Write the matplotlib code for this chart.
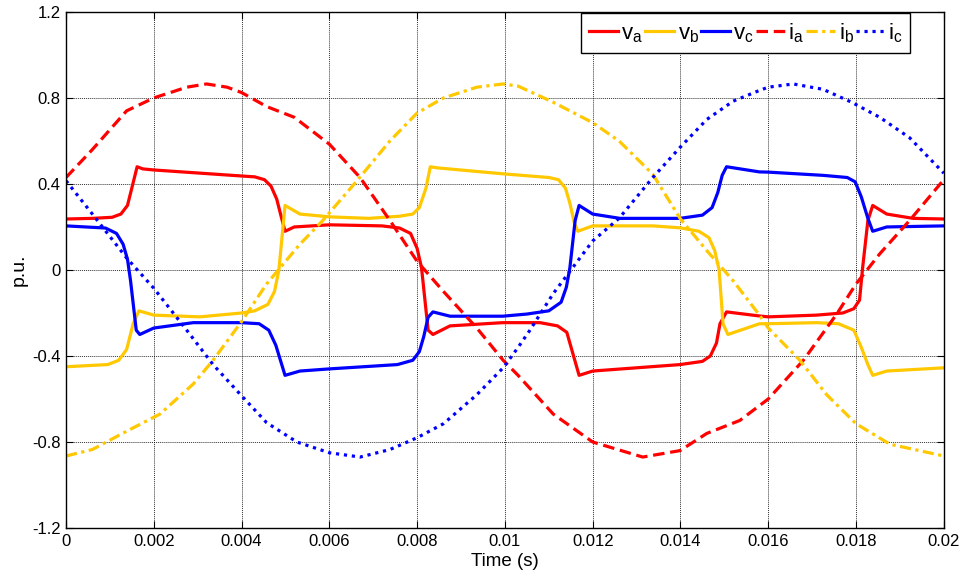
import numpy as np
import matplotlib
matplotlib.use("Agg")
import matplotlib.pyplot as plt
from matplotlib.ticker import FuncFormatter

plt.rcParams['font.family'] = ['Liberation Sans', 'DejaVu Sans']
plt.rcParams['mathtext.fontset'] = 'custom'
plt.rcParams['mathtext.rm'] = 'Liberation Sans'
plt.rcParams['mathtext.it'] = 'Liberation Sans'
plt.rcParams['axes.unicode_minus'] = False

# phase voltages (p.u.)
t_va = [0, 0.0006, 0.00105, 0.00125, 0.0014, 0.00162, 0.00175, 0.002, 0.004, 0.0043,
        0.00452, 0.00467, 0.0048, 0.0049, 0.00499, 0.0052, 0.006, 0.0072, 0.0076, 0.00785,
        0.008, 0.0081, 0.00825, 0.00836, 0.00875, 0.00995, 0.0108, 0.0112, 0.01141, 0.01155,
        0.01169, 0.0120, 0.01399, 0.0145, 0.01468, 0.01482, 0.0149, 0.01505, 0.0158, 0.016,
        0.0171, 0.0177, 0.01795, 0.01808, 0.01815, 0.01827, 0.01838, 0.0187, 0.0193, 0.02]
va = [0.237, 0.24, 0.245, 0.26, 0.30, 0.48, 0.47, 0.465, 0.437, 0.433,
      0.42, 0.39, 0.33, 0.25, 0.18, 0.20, 0.21, 0.205, 0.195, 0.17,
      0.10, 0.01, -0.28, -0.30, -0.26, -0.245, -0.245, -0.26, -0.29, -0.39,
      -0.49, -0.47, -0.44, -0.425, -0.40, -0.34, -0.25, -0.195, -0.214, -0.218,
      -0.21, -0.20, -0.18, -0.14, 0.01, 0.23, 0.30, 0.26, 0.24, 0.237]

t_vb = [0, 0.00095, 0.0012, 0.00138, 0.00153, 0.00166, 0.002, 0.00305, 0.004, 0.0043,
        0.0046, 0.00475, 0.00485, 0.00499, 0.00533, 0.006, 0.0069, 0.0076, 0.0079, 0.00805,
        0.0082, 0.0083, 0.00845, 0.00996, 0.0110, 0.01122, 0.01138, 0.01148, 0.01158, 0.01166,
        0.012, 0.01337, 0.01399, 0.01442, 0.01465, 0.01478, 0.01488, 0.01497, 0.01508, 0.0158,
        0.016, 0.0171, 0.0176, 0.01795, 0.01812, 0.01827, 0.01838, 0.0187, 0.02]
vb = [-0.45, -0.44, -0.42, -0.37, -0.25, -0.19, -0.21, -0.218, -0.20, -0.19,
      -0.16, -0.10, 0.0, 0.30, 0.26, 0.247, 0.24, 0.25, 0.26, 0.29,
      0.38, 0.48, 0.475, 0.447, 0.43, 0.42, 0.38, 0.31, 0.22, 0.18,
      0.205, 0.205, 0.196, 0.18, 0.15, 0.09, 0.0, -0.25, -0.30, -0.25,
      -0.25, -0.245, -0.25, -0.28, -0.36, -0.44, -0.49, -0.47, -0.455]

t_vc = [0, 0.0009, 0.00115, 0.0013, 0.0014, 0.00147, 0.0016, 0.00168, 0.002, 0.0029,
        0.004, 0.0044, 0.00462, 0.00478, 0.0049, 0.00499, 0.00533, 0.006, 0.00755, 0.0079,
        0.00805, 0.00815, 0.00825, 0.00836, 0.00875, 0.00995, 0.0105, 0.0110, 0.01128, 0.0114,
        0.01148, 0.0116, 0.01169, 0.012, 0.01262, 0.01399, 0.0145, 0.01472, 0.01485, 0.01495,
        0.01505, 0.0158, 0.016, 0.01725, 0.0178, 0.01798, 0.01812, 0.01827, 0.01838, 0.0187,
        0.02]
vc = [0.205, 0.195, 0.17, 0.12, 0.05, -0.05, -0.28, -0.30, -0.27, -0.245,
      -0.245, -0.25, -0.28, -0.35, -0.43, -0.49, -0.47, -0.46, -0.44, -0.42,
      -0.38, -0.31, -0.22, -0.195, -0.215, -0.215, -0.205, -0.19, -0.15, -0.08,
      0.01, 0.23, 0.30, 0.26, 0.24, 0.24, 0.255, 0.29, 0.36, 0.44,
      0.48, 0.456, 0.455, 0.44, 0.43, 0.41, 0.34, 0.24, 0.18, 0.20,
      0.205]

# phase currents (p.u.)
t_ia = [0, 0.0006, 0.00138, 0.002, 0.00275, 0.0032, 0.00367, 0.004, 0.00457, 0.0052,
        0.006, 0.0067, 0.00738, 0.008, 0.0086, 0.00936, 0.00996, 0.0103, 0.0111, 0.012,
        0.01314, 0.01399, 0.0146, 0.01535, 0.016, 0.0168, 0.01756, 0.018, 0.01854, 0.01922,
        0.02]
ia = [0.43, 0.56, 0.74, 0.80, 0.85, 0.865, 0.85, 0.825, 0.76, 0.71,
      0.585, 0.43, 0.23, 0.04, -0.10, -0.27, -0.42, -0.49, -0.67, -0.80,
      -0.87, -0.84, -0.76, -0.70, -0.60, -0.42, -0.205, -0.065, 0.075, 0.23,
      0.42]

t_ib = [0, 0.0006, 0.00138, 0.00214, 0.0029, 0.00335, 0.004, 0.00457, 0.00533, 0.00585,
        0.00663, 0.00738, 0.008, 0.0086, 0.00936, 0.00996, 0.0103, 0.0111, 0.012, 0.0126,
        0.01337, 0.01399, 0.0146, 0.0152, 0.0158, 0.016, 0.01672, 0.01733, 0.018, 0.01877,
        0.02]
ib = [-0.865, -0.835, -0.75, -0.67, -0.53, -0.42, -0.24, -0.065, 0.12, 0.23,
      0.415, 0.60, 0.73, 0.80, 0.85, 0.865, 0.855, 0.78, 0.685, 0.60,
      0.445, 0.24, 0.09, -0.05, -0.21, -0.27, -0.42, -0.58, -0.715, -0.81,
      -0.865]

t_ic = [0, 0.0006, 0.00138, 0.002, 0.00275, 0.00335, 0.004, 0.00457, 0.00526, 0.006,
        0.0067, 0.00738, 0.008, 0.0086, 0.00936, 0.00996, 0.0103, 0.01057, 0.0111, 0.012,
        0.0126, 0.01337, 0.01399, 0.0146, 0.0152, 0.0158, 0.016, 0.01657, 0.01725, 0.0179,
        0.01854, 0.01922, 0.02]
ic = [0.415, 0.26, 0.056, -0.085, -0.28, -0.44, -0.585, -0.71, -0.80, -0.85,
      -0.87, -0.835, -0.78, -0.715, -0.58, -0.455, -0.36, -0.28, -0.11, 0.135,
      0.24, 0.43, 0.57, 0.70, 0.785, 0.835, 0.85, 0.865, 0.84, 0.78,
      0.71, 0.615, 0.45]

x_ticks = np.arange(0, 0.0201, 0.002)
y_ticks = np.arange(-1.2, 1.21, 0.4)

red, yellow, blue = '#ff0000', '#ffc800', '#0000ff'
lw = 2.3

fig = plt.figure(figsize=(9.71, 5.76), dpi=100)
ax = fig.add_axes([0.068, 0.0833, 0.904, 0.896])

ax.plot(t_va, va, color=red, lw=lw, label='v$_a$')
ax.plot(t_vb, vb, color=yellow, lw=lw, label='v$_b$')
ax.plot(t_vc, vc, color=blue, lw=lw, label='v$_c$')
ax.plot(t_ia, ia, color=red, lw=lw, dashes=(3.6, 1.8), label='i$_a$')
ax.plot(t_ib, ib, color=yellow, lw=lw, dashes=(3.5, 1.4, 1.0, 1.4), label='i$_b$')
ax.plot(t_ic, ic, color=blue, lw=lw, dashes=(1.0, 1.5), label='i$_c$')

ax.set_xlim(0, 0.02)
ax.set_ylim(-1.2, 1.2)
ax.set_xticks(x_ticks)
ax.set_yticks(y_ticks)
ax.xaxis.set_major_formatter(FuncFormatter(lambda v, p: '%g' % round(v, 4)))
ax.yaxis.set_major_formatter(FuncFormatter(lambda v, p: '%g' % round(v, 2)))
ax.tick_params(direction='in', length=5, width=0.8, labelsize=12,
               top=True, right=True, pad=4)
ax.grid(True, color='black', linestyle=(0, (1, 1)), linewidth=0.7, alpha=0.8)
for s in ax.spines.values():
    s.set_linewidth(1.0)

ax.set_xlabel('Time (s)', fontsize=13.5, labelpad=3)
ax.set_ylabel('p.u.', fontsize=14, labelpad=3)

leg = ax.legend(ncol=6, loc='upper right', bbox_to_anchor=(0.962, 0.997),
                fontsize=16, handlelength=1.3, handletextpad=0.15,
                columnspacing=0.1, borderpad=0.35, borderaxespad=0,
                fancybox=False, framealpha=1)
leg.get_frame().set_edgecolor('black')
leg.get_frame().set_linewidth(1.0)

fig.savefig('out.png', dpi=100)
